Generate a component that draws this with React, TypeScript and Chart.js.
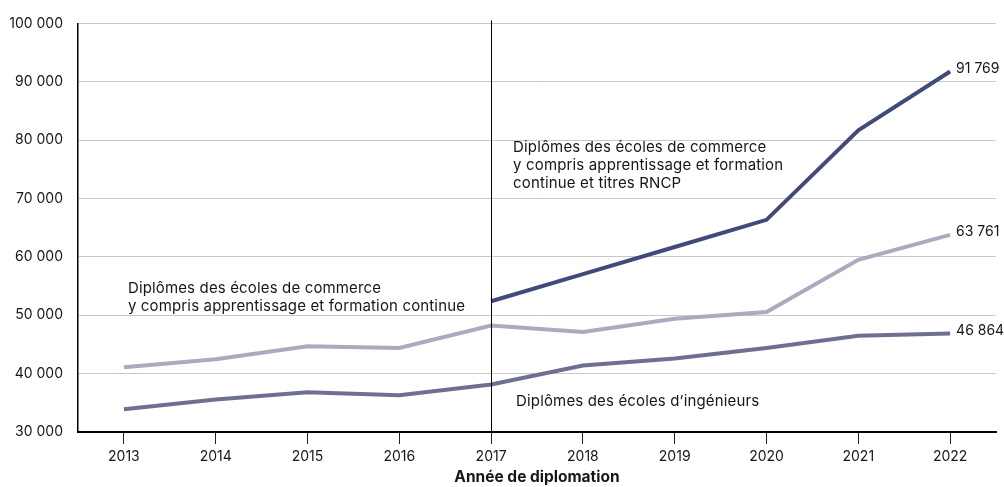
import React, { useEffect, useRef } from "react";
import { Chart, registerables } from "chart.js";

Chart.register(...registerables);

const years = ["2013", "2014", "2015", "2016", "2017", "2018", "2019", "2020", "2021", "2022"];
const commerceRncp = [null, null, null, null, 52400, 57050, 61700, 66350, 81700, 91769];
const commerce = [41100, 42450, 44700, 44400, 48230, 47150, 49400, 50560, 59500, 63761];
const ingenieurs = [33900, 35550, 36800, 36300, 38150, 41380, 42600, 44400, 46500, 46864];
const yTicks = [30000, 40000, 50000, 60000, 70000, 80000, 90000, 100000];

const FONT = "Inter, 'Noto Sans', sans-serif";
const TEXT = "#161616";

const fmt = (v: number) => String(Math.round(v)).replace(/\B(?=(\d{3})+(?!\d))/g, " ");

const annotPlugin = {
  id: "annot",
  afterDatasetsDraw(chart: any) {
    const { ctx, scales, chartArea } = chart;
    const x = scales.x;
    const y = scales.y;
    ctx.save();
    // vertical separator at 2017
    const vx = Math.round(x.getPixelForValue(4)) + 0.5;
    ctx.strokeStyle = "#000";
    ctx.lineWidth = 1;
    ctx.beginPath();
    ctx.moveTo(vx, chartArea.top - 3);
    ctx.lineTo(vx, chartArea.bottom);
    ctx.stroke();

    ctx.fillStyle = TEXT;
    ctx.font = `14px ${FONT}`;
    ctx.textBaseline = "middle";
    ctx.textAlign = "left";
    // end value labels
    const last = years.length - 1;
    const lx = x.getPixelForValue(last) + 6;
    [commerceRncp[last], commerce[last], ingenieurs[last]].forEach((v) => {
      if (v == null) return;
      ctx.fillText(fmt(v), lx, y.getPixelForValue(v) - 3);
    });

    // series annotations
    ctx.font = `15px ${FONT}`;
    try { (ctx as any).letterSpacing = "0.15px"; } catch (e) {}
    const a1x = x.getPixelForValue(0) + 4;
    const a1y = y.getPixelForValue(54600);
    ctx.fillText("Diplômes des écoles de commerce", a1x, a1y);
    ctx.fillText("y compris apprentissage et formation continue", a1x, a1y + 18.5);

    const a2x = x.getPixelForValue(4) + 22;
    const a2y = y.getPixelForValue(78700);
    ctx.fillText("Diplômes des écoles de commerce", a2x, a2y);
    ctx.fillText("y compris apprentissage et formation", a2x, a2y + 18);
    ctx.fillText("continue et titres RNCP", a2x, a2y + 36);

    const a3x = x.getPixelForValue(4) + 25;
    const a3y = y.getPixelForValue(35300);
    ctx.fillText("Diplômes des écoles d\u2019ingénieurs", a3x, a3y);
    ctx.restore();
  },
};

export default function App() {
  const ref = useRef<HTMLCanvasElement>(null);
  useEffect(() => {
    if (!ref.current) return;
    const chart = new Chart(ref.current, {
      type: "line",
      data: {
        labels: years,
        datasets: [
          { label: "RNCP", data: commerceRncp, borderColor: "#414b7b", borderWidth: 4, pointRadius: 0, tension: 0, spanGaps: false },
          { label: "Commerce", data: commerce, borderColor: "#a9acbf", borderWidth: 4, pointRadius: 0, tension: 0 },
          { label: "Ingénieurs", data: ingenieurs, borderColor: "#6d7091", borderWidth: 4, pointRadius: 0, tension: 0 },
        ],
      },
      options: {
        animation: false,
        responsive: true,
        maintainAspectRatio: false,
        layout: { padding: { left: 0, right: 8, top: 20, bottom: 0 } },
        plugins: { legend: { display: false }, tooltip: { enabled: false } },
        scales: {
          x: {
            type: "category",
            offset: true,
            grid: { display: true, drawOnChartArea: false, drawTicks: true, tickLength: 12, color: "#222", lineWidth: 1 },
            border: { display: true, color: "#000", width: 2 },
            ticks: { color: TEXT, font: { family: FONT, size: 14 }, padding: 4, maxRotation: 0 },
            title: { display: true, text: "Année de diplomation", color: TEXT, font: { family: FONT, size: 15.5, weight: "bold" }, padding: { top: 1, bottom: 0 } },
            afterFit: (s: any) => { s.height = 55; },
          },
          y: {
            min: 30000,
            max: 100000,
            afterBuildTicks: (s: any) => { s.ticks = yTicks.map((v) => ({ value: v })); },
            grid: { color: "#c8c8c8", lineWidth: 1, drawTicks: false },
            border: { display: true, color: "#000", width: 1.5 },
            ticks: { color: TEXT, font: { family: FONT, size: 14 }, padding: 15, callback: (v: any) => fmt(Number(v)) },
            afterFit: (s: any) => { s.width = 78; },
          },
        },
      },
      plugins: [annotPlugin],
    });
    return () => chart.destroy();
  }, []);
  return (
    <div style={{ position: "absolute", left: 0, top: 0, width: 1004, height: 487 }}>
      <canvas ref={ref} />
    </div>
  );
}
